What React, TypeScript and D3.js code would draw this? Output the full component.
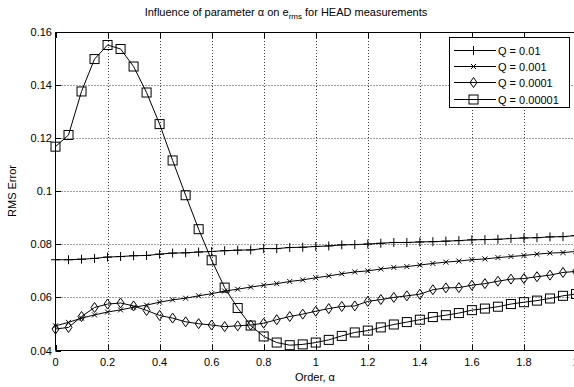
import React from 'react';
import * as d3 from 'd3';

// Order alpha, 0 to 2 in 0.05 steps
const alphas = [
  0, 0.05, 0.1, 0.15, 0.2, 0.25, 0.3, 0.35, 0.4, 0.45, 0.5, 0.55, 0.6, 0.65, 0.7,
  0.75, 0.8, 0.85, 0.9, 0.95, 1, 1.05, 1.1, 1.15, 1.2, 1.25, 1.3, 1.35, 1.4, 1.45,
  1.5, 1.55, 1.6, 1.65, 1.7, 1.75, 1.8, 1.85, 1.9, 1.95, 2,
];

const q1e2 = [
  0.0742, 0.0742, 0.0744, 0.0747, 0.0752, 0.0754, 0.0757, 0.0758, 0.0763, 0.0767, 0.0768,
  0.0771, 0.0773, 0.0776, 0.0778, 0.0779, 0.0784, 0.0784, 0.0788, 0.0789, 0.0792, 0.0794,
  0.0798, 0.0799, 0.0801, 0.0804, 0.0807, 0.0807, 0.0809, 0.081, 0.0812, 0.0814, 0.0817,
  0.0818, 0.0819, 0.0822, 0.0824, 0.0825, 0.0828, 0.0829, 0.0833,
];

const q1e3 = [
  0.0493, 0.0506, 0.0522, 0.0534, 0.0545, 0.0553, 0.0563, 0.0571, 0.0582, 0.0591, 0.0597,
  0.0606, 0.0614, 0.0624, 0.0631, 0.0639, 0.0646, 0.0652, 0.066, 0.0666, 0.0674, 0.0681,
  0.0689, 0.0696, 0.07, 0.0707, 0.0713, 0.0716, 0.0722, 0.0728, 0.0733, 0.0737, 0.0742,
  0.0745, 0.075, 0.0754, 0.0758, 0.0763, 0.0767, 0.0769, 0.0773,
];

const q1e4 = [
  0.0481, 0.0487, 0.0528, 0.0562, 0.0575, 0.0579, 0.0568, 0.0551, 0.0532, 0.0522, 0.0508,
  0.0501, 0.0496, 0.049, 0.0493, 0.0496, 0.0503, 0.0516, 0.0528, 0.0537, 0.0548, 0.0558,
  0.0566, 0.0568, 0.0585, 0.0592, 0.06, 0.0606, 0.0612, 0.0629, 0.0636, 0.0637, 0.0646,
  0.0652, 0.0661, 0.0669, 0.0671, 0.0678, 0.0684, 0.0694, 0.0698,
];

const q1e5 = [
  0.1168, 0.1212, 0.1376, 0.1498, 0.1551, 0.1536, 0.147, 0.1372, 0.1253, 0.1116, 0.0985,
  0.0857, 0.074, 0.0637, 0.056, 0.0494, 0.0453, 0.043, 0.042, 0.0423, 0.043, 0.044,
  0.0455, 0.0468, 0.0475, 0.0487, 0.0498, 0.0507, 0.0516, 0.0526, 0.0533, 0.0541, 0.0552,
  0.0558, 0.0565, 0.0575, 0.0582, 0.0588, 0.0596, 0.0606, 0.0613,
];

const seriesNames = ['Q = 0.01', 'Q = 0.001', 'Q = 0.0001', 'Q = 0.00001'];
const seriesMarkers = ['plus', 'x', 'diamond', 'square'];
const xTicks = [0, 0.2, 0.4, 0.6, 0.8, 1, 1.2, 1.4, 1.6, 1.8, 2];
const yTicks = [0.04, 0.06, 0.08, 0.1, 0.12, 0.14, 0.16];

const W = 574;
const H = 387;
const FONT = 'Liberation Sans, Arial, sans-serif';

const Marker = ({ kind, x, y }: { kind: string; x: number; y: number }) => {
  const s = { fill: 'none', stroke: '#000', strokeWidth: 1 };
  if (kind === 'plus') {
    return <path d={`M${x - 4.5},${y}H${x + 4.5}M${x},${y - 4.5}V${y + 4.5}`} {...s} />;
  }
  if (kind === 'x') {
    return <path d={`M${x - 2.5},${y - 2.5}L${x + 2.5},${y + 2.5}M${x - 2.5},${y + 2.5}L${x + 2.5},${y - 2.5}`} {...s} />;
  }
  if (kind === 'diamond') {
    return <path d={`M${x},${y - 5}L${x + 3.5},${y}L${x},${y + 5}L${x - 3.5},${y}Z`} {...s} />;
  }
  return <rect x={x - 4.5} y={y - 4.5} width={9} height={9} {...s} />;
};

export default function App() {
  const x = d3.scaleLinear().domain([0, 2]).range([55.5, 576]);
  const y = d3.scaleLinear().domain([0.04, 0.16]).range([350.5, 32]);
  const all = [q1e2, q1e3, q1e4, q1e5];

  // straight segments between samples, like the original plot
  const line = d3
    .line<number>()
    .x((_, i) => x(alphas[i]))
    .y((d) => y(d));

  const fmt = (v: number) => (v === 0 ? '0' : String(+v.toFixed(2)));

  const legendX = 449.5;
  const legendY = 37.5;
  const legendRows = [50, 66, 82, 99];

  return (
    <svg
      width={W}
      height={H}
      viewBox={`0 0 ${W} ${H}`}
      style={{ position: 'absolute', left: 0, top: 0, background: '#fff' }}
      fontFamily={FONT}
    >
      <rect x={0} y={0} width={W} height={H} fill="#fff" />

      {/* grid */}
      <g stroke="#000" strokeWidth={1} strokeDasharray="1 2" opacity={0.75}>
        {xTicks.slice(1).map((t) => (
          <line key={'gx' + t} x1={Math.round(x(t)) + 0.5} x2={Math.round(x(t)) + 0.5} y1={32} y2={350.5} />
        ))}
        {yTicks.slice(1, -1).map((t) => (
          <line key={'gy' + t} x1={55.5} x2={576} y1={Math.round(y(t)) + 0.5} y2={Math.round(y(t)) + 0.5} />
        ))}
      </g>

      {/* axes box and ticks */}
      <g stroke="#000" strokeWidth={1} fill="none">
        <path d={`M55.5,32.5H576M55.5,32.5V350.5H576`} />
        {xTicks.map((t) => (
          <g key={'tx' + t}>
            <line x1={Math.round(x(t)) + 0.5} x2={Math.round(x(t)) + 0.5} y1={350.5} y2={345} />
            <line x1={Math.round(x(t)) + 0.5} x2={Math.round(x(t)) + 0.5} y1={32.5} y2={38} />
          </g>
        ))}
        {yTicks.map((t) => (
          <line key={'ty' + t} x1={55.5} x2={61} y1={Math.round(y(t)) + 0.5} y2={Math.round(y(t)) + 0.5} />
        ))}
      </g>

      {/* tick labels */}
      <g fontSize={11} fill="#000">
        {xTicks.map((t) => (
          <text key={'lx' + t} x={x(t)} y={366} textAnchor="middle">
            {fmt(t)}
          </text>
        ))}
        {yTicks.map((t) => (
          <text key={'ly' + t} x={52} y={y(t) + 4} textAnchor="end">
            {fmt(t)}
          </text>
        ))}
      </g>

      {/* series */}
      {all.map((vals, si) => (
        <g key={'s' + si}>
          <path d={line(vals) || ''} fill="none" stroke="#000" strokeWidth={1} />
          {vals.map((v, i) => (
            <Marker key={i} kind={seriesMarkers[si]} x={x(alphas[i])} y={y(v)} />
          ))}
        </g>
      ))}

      {/* legend */}
      <rect x={legendX} y={legendY} width={120} height={70} fill="#fff" stroke="#000" strokeWidth={1} />
      {seriesNames.map((name, i) => (
        <g key={'lg' + i}>
          <line x1={454} x2={496} y1={legendRows[i] + 0.5} y2={legendRows[i] + 0.5} stroke="#000" strokeWidth={1} />
          <Marker kind={seriesMarkers[i]} x={473.5} y={legendRows[i] + 0.5} />
          <text x={498} y={legendRows[i] + 4.5} fontSize={11} fill="#000">
            {name}
          </text>
        </g>
      ))}

      {/* labels */}
      <text x={286} y={16} fontSize={11} textAnchor="middle" fill="#000">
        Influence of parameter α on e
        <tspan fontSize={8} dy={3}>rms</tspan>
        <tspan dy={-3}> for HEAD measurements</tspan>
      </text>
      <text x={315} y={381} fontSize={11} textAnchor="middle" fill="#000">
        Order, α
      </text>
      <text transform="translate(16,191) rotate(-90)" fontSize={11} textAnchor="middle" fill="#000">
        RMS Error
      </text>
    </svg>
  );
}
